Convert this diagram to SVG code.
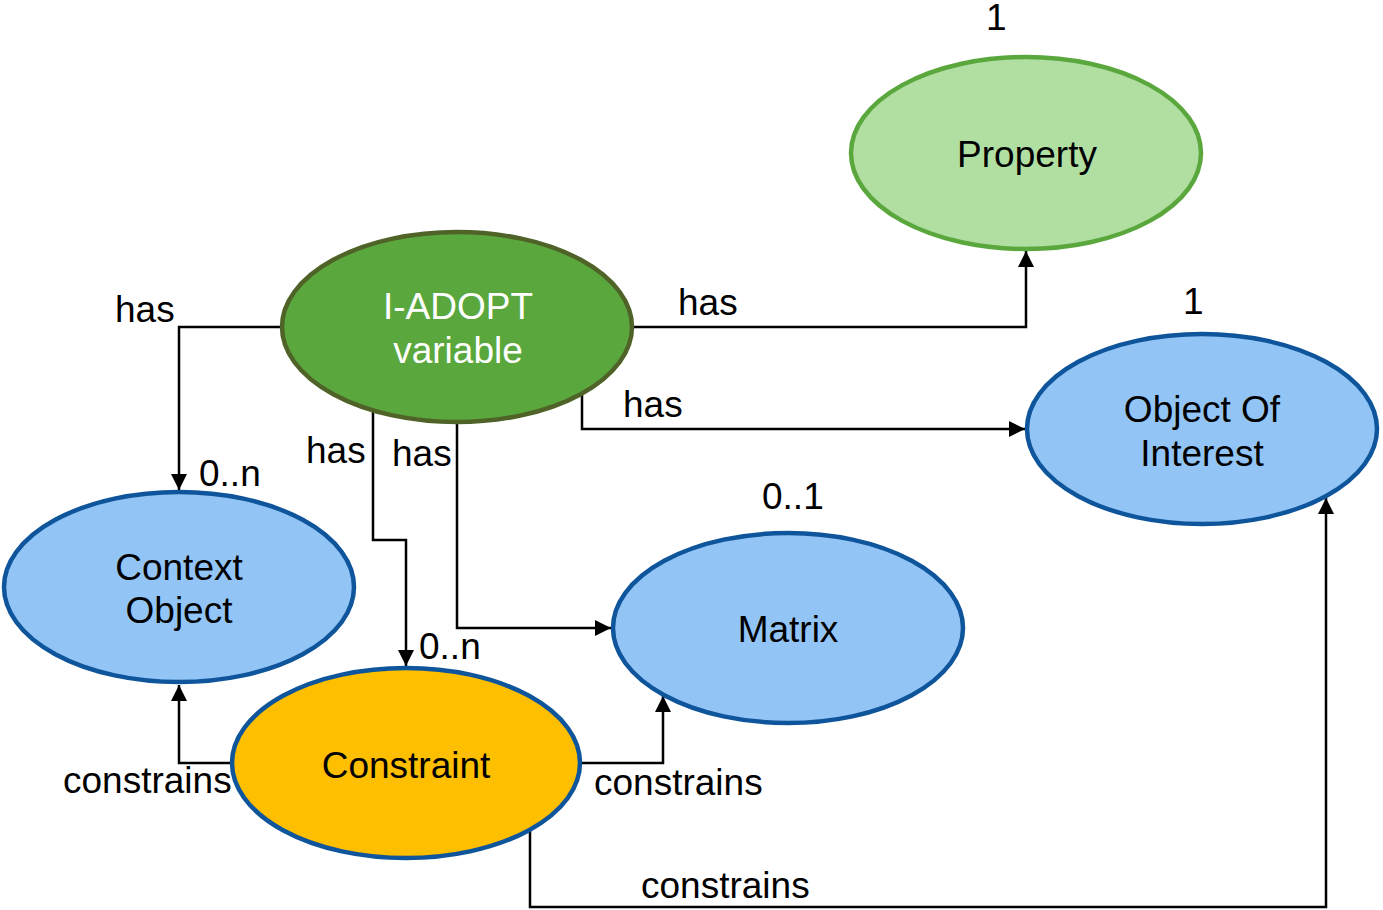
<svg xmlns="http://www.w3.org/2000/svg" width="1383" height="910" viewBox="0 0 1383 910">
  <style>
    .lbl { font-family: "Liberation Sans", Arial, sans-serif; font-size: 37px; fill: #000; }
    .name { font-family: "Liberation Sans", Arial, sans-serif; font-size: 37px; text-anchor: middle; }
    .conn { fill: none; stroke: #000; stroke-width: 2.5; marker-end: url(#arrow); }
    .blue { fill: #92c5f6; stroke: #0f559b; stroke-width: 4.5; }
  </style>
  <defs>
    <marker id="arrow" markerUnits="userSpaceOnUse" markerWidth="16" markerHeight="16" viewBox="0 0 16 16" refX="16" refY="8" orient="auto">
      <path d="M0,0 L16,8 L0,16 Z" fill="#000"/>
    </marker>
  </defs>
  <rect width="1383" height="910" fill="#fff"/>

  <g id="connectors">
    <polyline class="conn" points="634,327 1026,327 1026,251"/>
    <polyline class="conn" points="582,395 582,429 1025,429"/>
    <polyline class="conn" points="281,327 179,327 179,490"/>
    <polyline class="conn" points="373,412 373,540 406,540 406,666"/>
    <polyline class="conn" points="457,424 457,628 611,628"/>
    <polyline class="conn" points="232,763 179,763 179,685"/>
    <polyline class="conn" points="581,763 663,763 663,696"/>
    <polyline class="conn" points="530,830 530,907 1326,907 1326,498"/>
  </g>

  <g id="labels">
    <text class="lbl" x="115" y="322">has</text>
    <text class="lbl" x="678" y="315">has</text>
    <text class="lbl" x="623" y="417">has</text>
    <text class="lbl" x="306" y="463">has</text>
    <text class="lbl" x="392" y="466">has</text>
    <text class="lbl" x="986" y="30">1</text>
    <text class="lbl" x="1183" y="314">1</text>
    <text class="lbl" x="199" y="486">0..n</text>
    <text class="lbl" x="419" y="659">0..n</text>
    <text class="lbl" x="762" y="509">0..1</text>
    <text class="lbl" x="63" y="793">constrains</text>
    <text class="lbl" x="594" y="795">constrains</text>
    <text class="lbl" x="641" y="898">constrains</text>
  </g>

  <g id="property">
    <ellipse cx="1026" cy="153" rx="175" ry="96" fill="#b1dfa2" stroke="#5aa83d" stroke-width="4.5"/>
    <text class="name" x="1027" y="167">Property</text>
  </g>

  <g id="iadopt-variable">
    <ellipse cx="457" cy="327" rx="175" ry="95" fill="#5aa83d" stroke="#4f6228" stroke-width="4.5"/>
    <text class="name" x="458" y="319" fill="#fff">I-ADOPT</text>
    <text class="name" x="458" y="363" fill="#fff">variable</text>
  </g>

  <g id="object-of-interest">
    <ellipse class="blue" cx="1202" cy="429" rx="175" ry="95"/>
    <text class="name" x="1202" y="422">Object Of</text>
    <text class="name" x="1202" y="466">Interest</text>
  </g>

  <g id="context-object">
    <ellipse class="blue" cx="179" cy="587" rx="175" ry="95"/>
    <text class="name" x="179" y="580">Context</text>
    <text class="name" x="179" y="623">Object</text>
  </g>

  <g id="matrix">
    <ellipse class="blue" cx="788" cy="628" rx="175" ry="95"/>
    <text class="name" x="788" y="642">Matrix</text>
  </g>

  <g id="constraint">
    <ellipse cx="406" cy="763" rx="174" ry="95" fill="#fdbf00" stroke="#0f559b" stroke-width="4.5"/>
    <text class="name" x="406" y="778">Constraint</text>
  </g>
</svg>
